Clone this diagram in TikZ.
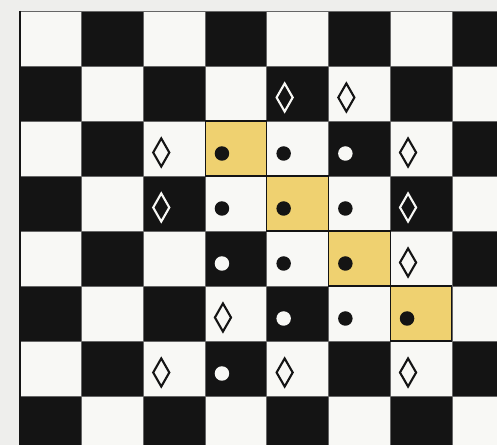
\documentclass[tikz,border=0pt]{standalone}
\usepackage{tikz}
\usetikzlibrary{positioning, calc, shapes.geometric}
\usepackage{xcolor}
\definecolor{boardink}{RGB}{20,20,20}
\definecolor{boardpaper}{RGB}{248,248,245}
\definecolor{margin}{RGB}{238,238,236}
\definecolor{diaggold}{RGB}{239,209,112}

\begin{document}
\begin{tikzpicture}[x=0.02cm, y=-0.02cm,
    sqr/.style={rectangle, draw=black!60, line width=0.4pt, outer sep=0pt,
                minimum width=1.234cm, minimum height=1.1cm},
    goldsq/.style={sqr, fill=diaggold, draw=boardink, line width=0.6pt},
    pawn/.style={circle, inner sep=0pt, minimum size=0.29cm},
    blackpawn/.style={pawn, fill=boardink},
    whitepawn/.style={pawn, fill=boardpaper},
    lozenge/.style={diamond, inner sep=0pt, minimum width=0.34cm,
                    minimum height=0.58cm, line width=1.2pt}]
  \useasboundingbox (0,0) rectangle (497,445);
  \clip (0,0) rectangle (497,445);
  \fill[margin] (0,0) rectangle (497,445);
  % board squares, dark where row+column is odd
  \foreach \r in {0,...,7}{
    \foreach \c in {0,...,7}{
      \pgfmathtruncatemacro{\odd}{mod(\r+\c,2)}
      \ifnum\odd=1 \def\sqcol{boardink}\else\def\sqcol{boardpaper}\fi
      \node[sqr, fill=\sqcol] (s-\r-\c) at ({20+61.7*(\c+0.5)}, {11+55*(\r+0.5)}) {};
    }
  }
  % the highlighted diagonal
  \foreach \r/\c in {2/3, 3/4, 4/5, 5/6}
    \node[goldsq] (g-\r-\c) at (s-\r-\c) {};
  \draw[boardink, line width=1.2pt] (s-0-0.north west) -- (s-7-0.south west);
  % pawns and diamonds, set a little left of centre
  \foreach \r/\c in {2/3, 2/4, 3/3, 3/4, 3/5, 4/4, 4/5, 5/5, 5/6}
    \node[blackpawn] (p-\r-\c) at ([shift={(-14,5)}]s-\r-\c) {};
  \foreach \r/\c in {2/5, 4/3, 5/4, 6/3}
    \node[whitepawn] (p-\r-\c) at ([shift={(-14,5)}]s-\r-\c) {};
  \foreach \r/\c in {1/5, 2/2, 2/6, 4/6, 5/3, 6/2, 6/4, 6/6}
    \node[lozenge, draw=boardink] (d-\r-\c) at ([shift={(-13,4)}]s-\r-\c) {};
  \foreach \r/\c in {1/4, 3/2, 3/6}
    \node[lozenge, draw=boardpaper] (d-\r-\c) at ([shift={(-13,4)}]s-\r-\c) {};
\end{tikzpicture}
\end{document}
